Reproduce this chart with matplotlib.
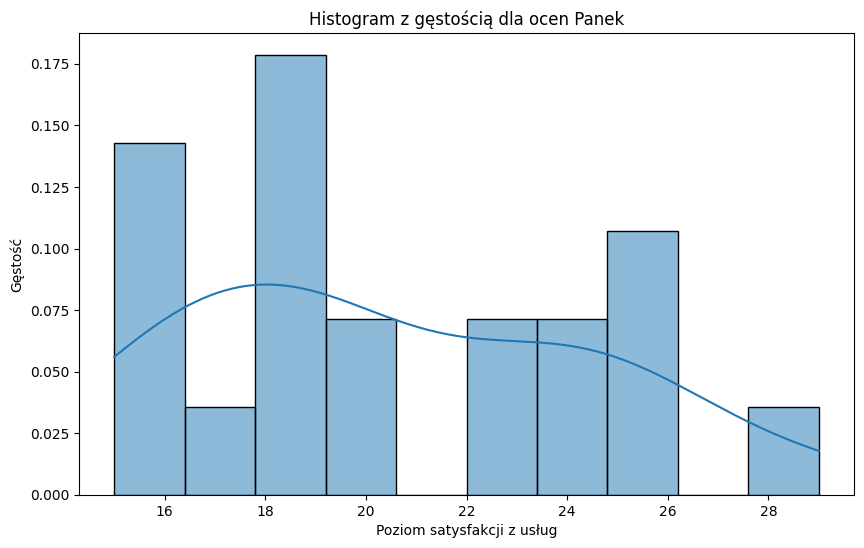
import matplotlib
matplotlib.use("Agg")
from matplotlib import pyplot as plt
import seaborn as sns

oceny = [15, 15, 16, 16,
         17,
         18, 18, 18, 19, 19,
         20, 20,
         22, 23,
         24, 24,
         25, 25, 26,
         29]

fig = plt.figure(figsize=(8.64, 5.48), dpi=100)
ax = fig.add_axes([79/864, 1-495/548, 775/864, 462/548])
sns.histplot(oceny, bins=10, kde=True, stat='density', ax=ax)
ax.set_title('Histogram z gęstością dla ocen Panek')
ax.set_xlabel('Poziom satysfakcji z usług')
ax.set_ylabel('Gęstość')
fig.savefig('out.png', dpi=100)
